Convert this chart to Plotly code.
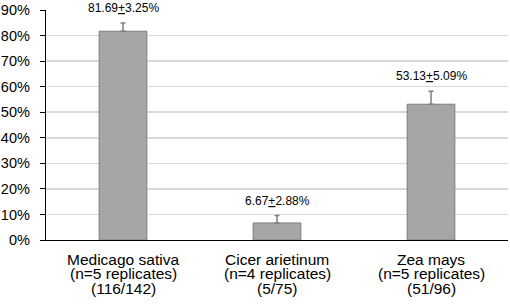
import plotly.graph_objects as go

species = ["Medicago sativa", "Cicer arietinum", "Zea mays"]
replicates = [5, 4, 5]
counts = ["116/142", "5/75", "51/96"]
means = [81.69, 6.67, 53.13]
errors = [3.25, 2.88, 5.09]
y_ticks = [0, 10, 20, 30, 40, 50, 60, 70, 80, 90]

FONT = "Liberation Sans, Arial, sans-serif"

fig = go.Figure()
fig.add_trace(go.Bar(
    x=species, y=means, width=0.31,
    marker=dict(color="#a6a6a6", line=dict(color="#7f7f7f", width=1)),
    error_y=dict(type="data", symmetric=False, array=errors,
                 arrayminus=[0] * len(errors),
                 color="#7f7f7f", thickness=1.5, width=2.5),
    hoverinfo="skip",
))

for s, m, e in zip(species, means, errors):
    fig.add_annotation(x=s, y=m + e, xref="x", yref="y",
                       text=f"{m:.2f}<u>+</u>{e:.2f}%", showarrow=False,
                       yanchor="bottom", yshift=6,
                       font=dict(family=FONT, size=12, color="#000"))

for s, r, c in zip(species, replicates, counts):
    lines = [s, f"(n={r} replicates)", f"({c})"]
    for i, ln in enumerate(lines):
        fig.add_annotation(x=s, y=0, xref="x", yref="paper",
                           text=ln, showarrow=False, yanchor="middle",
                           borderpad=0,
                           yshift=-(19 + 14.5 * i),
                           font=dict(family=FONT, size=15.5, color="#000"))

fig.update_layout(
    width=510, height=305,
    margin=dict(l=46, r=2, t=10, b=65, autoexpand=False),
    paper_bgcolor="white", plot_bgcolor="white",
    showlegend=False,
    bargap=0.69,
)
fig.update_xaxes(showticklabels=False, showline=True, linecolor="#000",
                 linewidth=1.2, ticks="", showgrid=False, automargin=False)
fig.update_yaxes(range=[0, 90], tickvals=y_ticks,
                 ticktext=[f"{v}%" for v in y_ticks],
                 showline=True, linecolor="#000", linewidth=1.2,
                 ticks="outside", ticklen=5, tickcolor="#000",
                 ticklabelstandoff=7,
                 showgrid=True, gridcolor="#d9d9d9", gridwidth=1.5,
                 zeroline=False, automargin=False,
                 tickfont=dict(family=FONT, size=14.5, color="#000"))

fig.write_html(
    "out.html",
    config={"displayModeBar": False, "staticPlot": True},
    post_script="document.body.style.margin='0';document.body.style.overflow='hidden';",
)
